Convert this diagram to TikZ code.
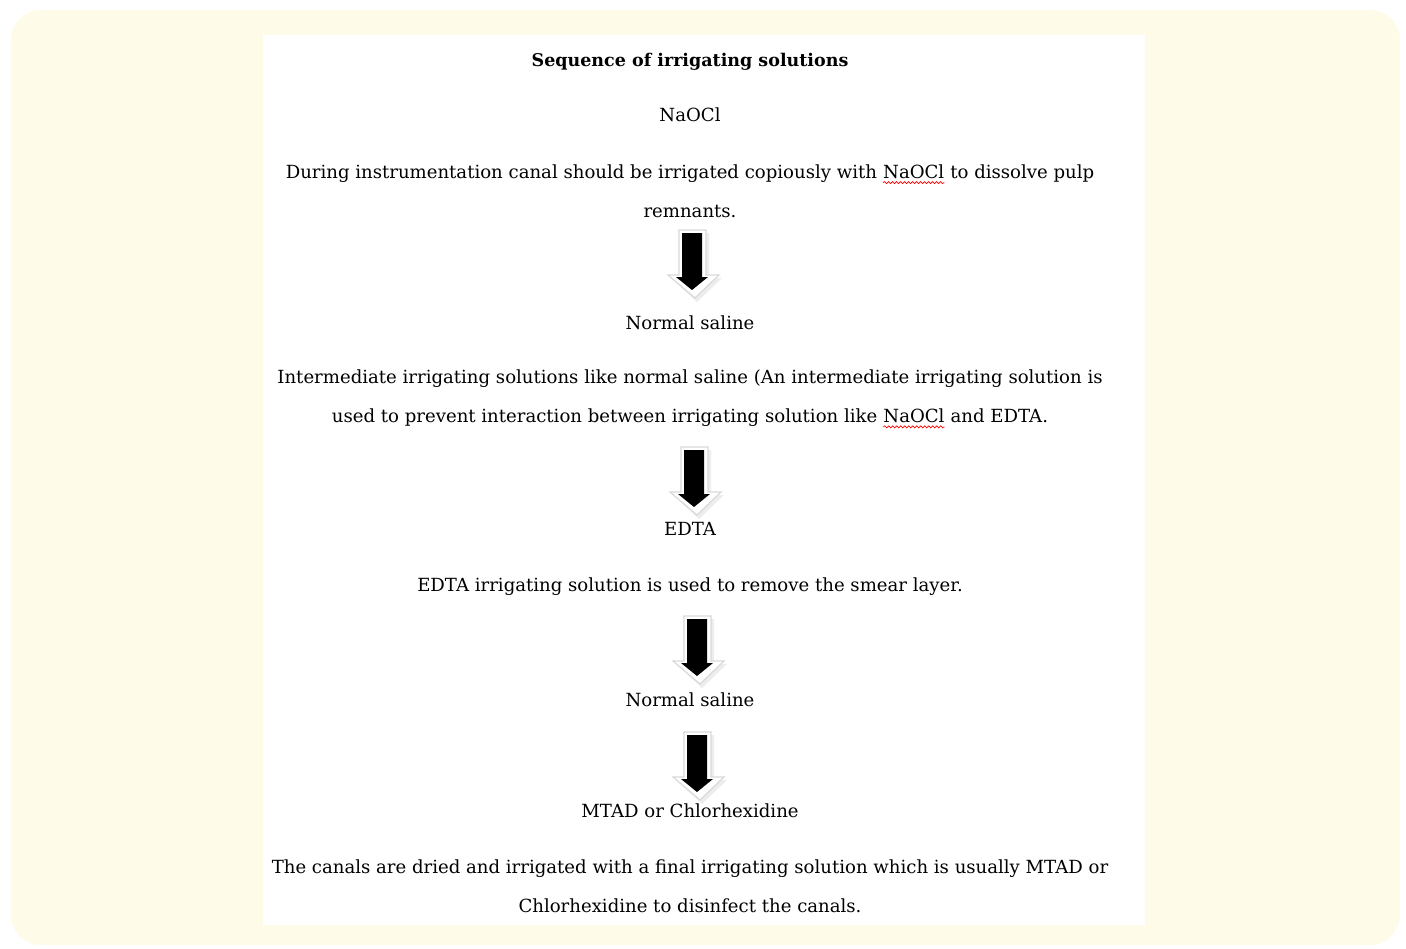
\documentclass[tikz,border=0pt]{standalone}
\usepackage{fontspec}
\setmainfont{DejaVu Serif}
\usetikzlibrary{decorations.pathmorphing}
\definecolor{panelbg}{RGB}{255,251,233}
\newcommand\spellerr[1]{\tikz[baseline=(w.base)]{%
  \node[inner sep=0pt, outer sep=0pt] (w) {#1};
  \draw[red, line width=0.35pt, decorate, decoration={snake, amplitude=0.5pt, segment length=2pt}]
    ([yshift=-2.2pt]w.base west) -- ([yshift=-2.2pt]w.base east);}}
\tikzset{
  txt/.style={align=center, inner sep=0pt, font=\fontsize{9.05}{19.5}\selectfont},
  bold txt/.style={txt, font=\fontsize{8.75}{19.5}\selectfont\bfseries},
  pics/downarrow/.style={code={
    % bevel / shadow
    \fill[gray!14] (-11,0) -- (17,0) -- (17,45) -- (30,45) -- (5,69) -- (-21,45) -- (-11,45) -- cycle;
    \filldraw[fill=white, draw=gray!30, line width=0.6pt]
      (-13,-3) -- (14,-3) -- (14,42) -- (27,42) -- (3,65) -- (-24,42) -- (-13,42) -- cycle;
    % black face
    \fill[black] (-10,0) -- (10,0) -- (10,44) -- (16,44) -- (0,57) -- (-16,44) -- (-10,44) -- cycle;
  }}
}
\begin{document}
\begin{tikzpicture}[x=0.5pt, y=-0.5pt]
  \useasboundingbox (0,0) rectangle (1406,948);
  % Background panel
  \fill[panelbg] (11,10) [rounded corners=15pt] rectangle (1400,945);
  \fill[white] (263,35) rectangle (1145,925);
  % Texts
  \node[bold txt] (title) at (690,62) {Sequence of irrigating solutions};
  \node[txt] (naocl) at (690,115) {NaOCl};
  \node[txt] (naocltxt) at (690,191) {During instrumentation canal should be irrigated copiously with \spellerr{NaOCl} to dissolve pulp\\remnants.};
  \node[txt] (saline1) at (690,323) {Normal saline};
  \node[txt] (salinetxt) at (690,399) {Intermediate irrigating solutions like normal saline (An intermediate irrigating solution is\\used to prevent interaction between irrigating solution like \spellerr{NaOCl} and EDTA.};
  \node[txt] (edta) at (690,529) {EDTA};
  \node[txt] (edtatxt) at (690,587) {EDTA irrigating solution is used to remove the smear layer.};
  \node[txt] (saline2) at (690,700) {Normal saline};
  \node[txt] (final) at (690,811) {MTAD or Chlorhexidine};
  \node[txt] (finaltxt) at (690,886) {The canals are dried and irrigated with a final irrigating solution which is usually MTAD or\\Chlorhexidine to disinfect the canals.};
  % Block arrows
  \foreach \cx/\ty in {692/233, 694/450, 697/619, 697/735} {
    \pic at (\cx,\ty) {downarrow};
  }
\end{tikzpicture}
\end{document}
